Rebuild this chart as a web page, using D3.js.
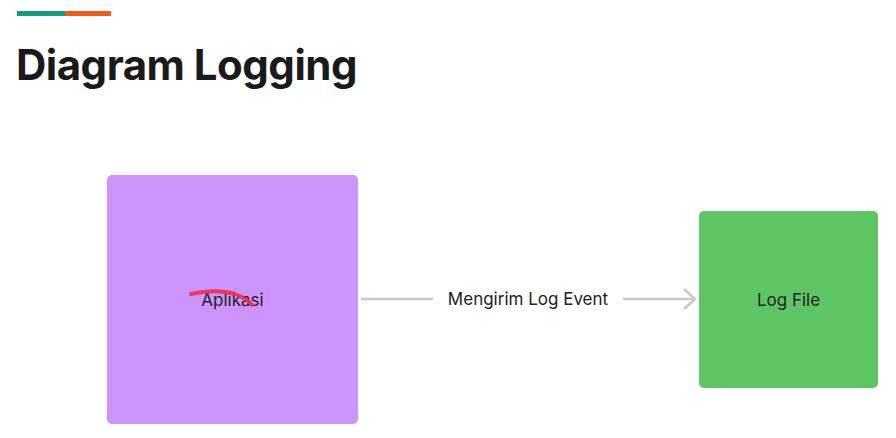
<!DOCTYPE html><html><head><meta charset="utf-8">
<script src="https://cdn.jsdelivr.net/npm/d3@7"></script>
<style>body{margin:0;background:#fff}</style></head><body><svg id="c" width="896" height="438"></svg>
<script>
const nodes = ["Aplikasi", "Log File"];
const edgeLabels = ["Mengirim Log Event"];
const nodeColors = ["#cd94fd", "#5ec565"];
const svg = d3.select("#c");
const font = "Inter, Lato, sans-serif";
svg.append("rect").attr("x",17).attr("y",11).attr("width",48).attr("height",5).attr("fill","#149a80");
svg.append("rect").attr("x",65).attr("y",11).attr("width",46).attr("height",5).attr("fill","#f15a16");
svg.append("text").attr("x",16).attr("y",80).text("Diagram Logging").attr("font-family",font).attr("font-weight",700).attr("font-size",42).attr("fill","#1a1a1a").attr("letter-spacing",-0.5);
const boxes = [{x:107,y:175,w:251,h:249},{x:699,y:211,w:179,h:177}];
boxes.forEach((b,i)=>{
  svg.append("rect").attr("x",b.x).attr("y",b.y).attr("width",b.w).attr("height",b.h).attr("rx",5).attr("fill",nodeColors[i]);
  svg.append("text").attr("x",b.x+b.w/2).attr("y",306).attr("text-anchor","middle").text(nodes[i]).attr("font-family",font).attr("font-size",17).attr("fill","#222");
});
svg.append("path").attr("d","M191,294 C205,291 222,290 235,294 C243,297 249,301 252,305").attr("stroke","#f0304c").attr("stroke-width",4).attr("fill","none").attr("stroke-linecap","round").attr("opacity",0.9);
const g="#c8c8c8";
svg.append("line").attr("x1",361).attr("x2",433).attr("y1",299).attr("y2",299).attr("stroke",g).attr("stroke-width",2.5);
svg.append("line").attr("x1",623).attr("x2",694).attr("y1",299).attr("y2",299).attr("stroke",g).attr("stroke-width",2.5);
svg.append("path").attr("d","M684,289 L695,299 L684,309").attr("stroke",g).attr("stroke-width",2.5).attr("fill","none");
svg.append("text").attr("x",528).attr("y",305).attr("text-anchor","middle").text(edgeLabels[0]).attr("font-family",font).attr("font-size",17).attr("fill","#222");
</script></body></html>
